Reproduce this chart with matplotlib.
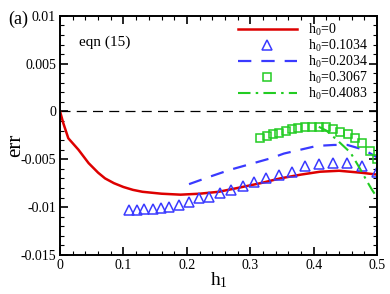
import numpy as np
import matplotlib
matplotlib.use("Agg")
import matplotlib.pyplot as plt
from matplotlib.ticker import MultipleLocator

plt.rcParams["font.family"] = ["Liberation Serif", "DejaVu Serif"]
plt.rcParams["mathtext.fontset"] = "stix"

# h0 = 0
h1_a = [0, 0.005, 0.013, 0.029, 0.045, 0.06, 0.071, 0.085, 0.1, 0.115, 0.13,
        0.16, 0.19, 0.22, 0.25, 0.28, 0.316, 0.347, 0.38, 0.41, 0.44, 0.474, 0.5]
err_a = [0, -0.0012, -0.0028, -0.0040, -0.0054, -0.0064, -0.0070, -0.0075,
         -0.0079, -0.0082, -0.0084, -0.0086, -0.0087, -0.0086, -0.0084,
         -0.0080, -0.0075, -0.0070, -0.0066, -0.0063, -0.0062, -0.0064, -0.0066]

# h0 = 0.1034
h1_b = [0.109, 0.121, 0.133, 0.146, 0.159, 0.172, 0.187, 0.203, 0.219, 0.235,
        0.252, 0.270, 0.288, 0.306, 0.325, 0.345, 0.366, 0.387, 0.408, 0.431,
        0.453, 0.476, 0.5]
err_b = [-0.0103, -0.0103, -0.0102, -0.0102, -0.0101, -0.0100, -0.0098,
         -0.0095, -0.0091, -0.0089, -0.0085, -0.0082, -0.0078, -0.0074,
         -0.0070, -0.0066, -0.0063, -0.0057, -0.0055, -0.0054, -0.0054,
         -0.0057, -0.0063]

# h0 = 0.2034
h1_c = [0.2034, 0.237, 0.268, 0.300, 0.332, 0.353, 0.379, 0.405, 0.432,
        0.453, 0.479, 0.5]
err_c = [-0.0076, -0.0068, -0.0061, -0.0055, -0.0049, -0.0044, -0.0040,
         -0.0036, -0.0035, -0.0035, -0.0040, -0.0048]

# h0 = 0.3067
h1_d = [0.316, 0.326, 0.336, 0.346, 0.356, 0.366, 0.376, 0.387, 0.398, 0.408,
        0.419, 0.431, 0.442, 0.454, 0.465, 0.476, 0.488, 0.5]
err_d = [-0.0028, -0.0026, -0.0024, -0.0022, -0.0020, -0.0018, -0.0017,
         -0.0016, -0.0016, -0.0016, -0.0016, -0.0018, -0.0021, -0.0024,
         -0.0028, -0.0033, -0.0041, -0.0050]

# h0 = 0.4083
h1_e = [0.408, 0.42, 0.437, 0.458, 0.474, 0.484, 0.492, 0.5]
err_e = [-0.0016, -0.0020, -0.0030, -0.0043, -0.0061, -0.0073, -0.0082, -0.0090]

h0_values = ["0", "0.1034", "0.2034", "0.3067", "0.4083"]
labels = [r"$\mathregular{h_0}$=" + v for v in h0_values]

red = "#dd0000"
blue = "#3a3aff"
green = "#22cc22"

fig = plt.figure(figsize=(3.9, 2.94), dpi=100)
ax = fig.add_axes([0.154, 0.133, 0.813, 0.813])

ax.axhline(0, color="black", lw=0.9, dashes=(8, 5), zorder=1)
ax.plot(h1_a, err_a, color=red, lw=1.8, label=labels[0])
ax.plot(h1_b, err_b, ls="none", marker="^", ms=6.5, mfc="none", mec=blue,
        mew=1.1, label=labels[1])
ax.plot(h1_c, err_c, color=blue, lw=1.6, dashes=(6, 4.5), label=labels[2])
ax.plot(h1_d, err_d, ls="none", marker="s", ms=5.5, mfc="none", mec=green,
        mew=1.1, label=labels[3])
ax.plot(h1_e, err_e, color=green, lw=1.5, dashes=(6, 2.5, 1.2, 2.5),
        label=labels[4])

ax.set_xlim(0, 0.5)
ax.set_ylim(-0.015, 0.01)
ax.xaxis.set_minor_locator(MultipleLocator(0.02))
ax.yaxis.set_minor_locator(MultipleLocator(0.001))
ax.set_xticks([0, 0.1, 0.2, 0.3, 0.4, 0.5])
ax.set_xticklabels(["0", "0.1", "0.2", "0.3", "0.4", "0.5"])
ax.set_yticks([-0.015, -0.01, -0.005, 0, 0.005, 0.01])
ax.set_yticklabels(["-0.015", "-0.01", "-0.005", "0", "0.005", "0.01"])
ax.tick_params(which="both", direction="in", top=True, right=True,
               labelsize=10, pad=3)
ax.tick_params(which="major", length=6, width=1.2)
ax.tick_params(which="minor", length=3, width=0.8)
for sp in ax.spines.values():
    sp.set_linewidth(1.4)

ax.set_xlabel(r"$\mathregular{h_1}$", fontsize=14)
ax.xaxis.set_label_coords(0.5, -0.065)
ax.set_ylabel("err", fontsize=15)
ax.yaxis.set_label_coords(-0.11, 0.46)

ax.text(0.06, 0.875, "eqn (15)", transform=ax.transAxes, fontsize=11)
fig.text(0.02, 0.92, "(a)", fontsize=13)

ax.legend(loc="upper right", bbox_to_anchor=(0.99, 1.0), frameon=False,
          fontsize=10, handlelength=4.3, handletextpad=0.8, labelspacing=0.0,
          borderaxespad=0.0, numpoints=1)

fig.savefig("out.png", dpi=100)
